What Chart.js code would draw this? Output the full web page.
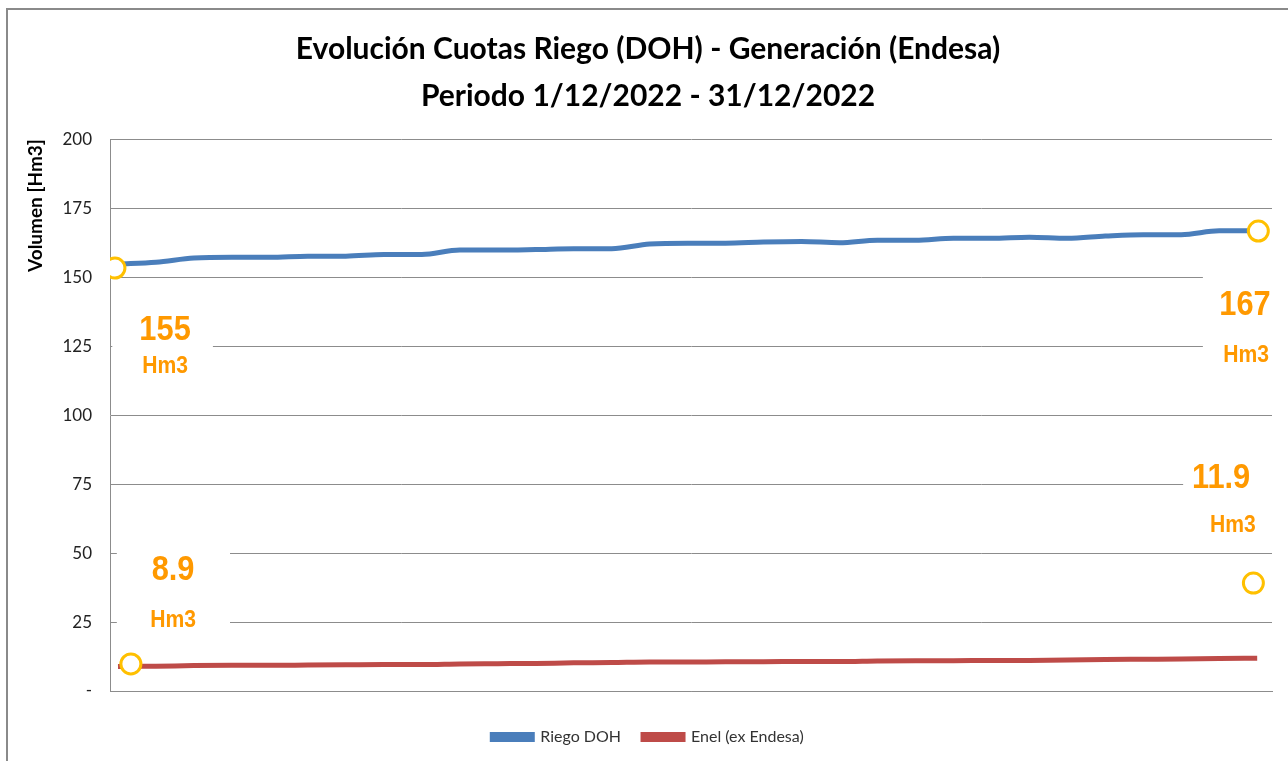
<!DOCTYPE html>
<html lang="es">
<head>
    <meta charset="UTF-8">
    <title>Evolución Cuotas Riego (DOH) - Generación (Endesa)</title>
    <script src="https://cdn.jsdelivr.net/npm/chart.js"></script>
    <style>
        html, body { margin: 0; padding: 0; background: #fff; overflow: hidden; }
        #wrap { position: relative; width: 1288px; height: 761px; }
        #frame {
            position: absolute; left: 6px; top: 8px; width: 1400px; height: 900px;
            border-left: 2px solid #8a8a8a; border-top: 2px solid #8a8a8a;
            pointer-events: none;
        }
    </style>
</head>
<body>
<div id="wrap">
    <canvas id="cuotas" width="1288" height="761"></canvas>
    <div id="frame"></div>
</div>

<script>
    // day of December 2022
    const days = [1, 2, 3, 4, 5, 6, 7, 8, 9, 10, 11, 12, 13, 14, 15, 16,
                  17, 18, 19, 20, 21, 22, 23, 24, 25, 26, 27, 28, 29, 30, 31];

    // Hm3
    const riegoDOH = [154.7, 155.4, 156.9, 157.2, 157.2, 157.6, 157.6, 158.2, 158.2, 159.8,
                      159.8, 160.0, 160.3, 160.3, 162.0, 162.3, 162.3, 162.7, 162.9, 162.5,
                      163.4, 163.4, 164.1, 164.1, 164.5, 164.1, 164.9, 165.4, 165.4, 166.8, 166.8];
    const enel = [8.9, 9.0, 9.2, 9.3, 9.3, 9.4, 9.5, 9.6, 9.6, 9.8,
                  9.9, 10.0, 10.2, 10.3, 10.5, 10.5, 10.6, 10.6, 10.7, 10.7,
                  10.9, 11.0, 11.0, 11.1, 11.1, 11.2, 11.4, 11.5, 11.6, 11.8, 11.9];

    const yTickValues = [0, 25, 50, 75, 100, 125, 150, 175, 200];
    const yTickLabels = ['-', '25', '50', '75', '100', '125', '150', '175', '200'];

    // yellow circles drawn on the original
    const markerX = [0.92, 31.03, 1.34, 30.9];
    const markerY = [153.3, 166.7, 9.8, 39.1];

    // orange value notes
    const noteText = ['155', '167', '11.9', '8.9'];
    const noteUnit = ['Hm3', 'Hm3', 'Hm3', 'Hm3'];

    const ORANGE = '#FF9900';

    // where the notes sit, in axis units
    const notePlaces = [
        { x: 2.24, y: 130.8, ux: 2.24, uy: 117.8, box: [0.85, 3.5, 145, 105] },
        { x: 30.68, y: 139.9, ux: 30.71, uy: 121.7, box: [29.57, 32, 152, 112] },
        { x: 30.05, y: 77.2, ux: 30.36, uy: 60.1, box: [29.05, 32, 90, 55] },
        { x: 2.45, y: 43.8, ux: 2.45, uy: 25.7, box: [0.97, 3.95, 60, 18] }
    ];

    const notesPlugin = {
        id: 'notes',
        beforeDatasetsDraw(chart) {
            const ctx = chart.ctx;
            const sx = chart.scales.x, sy = chart.scales.y;
            ctx.save();
            notePlaces.forEach((p, i) => {
                const x0 = sx.getPixelForValue(p.box[0]), x1 = sx.getPixelForValue(p.box[1]);
                const y0 = sy.getPixelForValue(p.box[2]), y1 = sy.getPixelForValue(p.box[3]);
                ctx.fillStyle = '#fff';
                ctx.fillRect(Math.max(x0, chart.chartArea.left + 1), y0, x1 - x0, y1 - y0);

                ctx.fillStyle = ORANGE;
                ctx.textAlign = 'center';
                ctx.textBaseline = 'middle';
                const draw = (txt, font, px, py) => {
                    ctx.save();
                    ctx.translate(sx.getPixelForValue(px), sy.getPixelForValue(py));
                    ctx.scale(0.88, 1);
                    ctx.font = font;
                    ctx.fillText(txt, 0, 0);
                    ctx.restore();
                };
                draw(noteText[i], 'bold 35px "Liberation Sans", Arial, sans-serif', p.x, p.y);
                draw(noteUnit[i], 'bold 24px "Liberation Sans", Arial, sans-serif', p.ux, p.uy);
            });
            ctx.restore();
        }
    };

    const ctx = document.getElementById('cuotas').getContext('2d');
    const chart = new Chart(ctx, {
        type: 'line',
        data: {
            datasets: [{
                label: 'Riego DOH',
                data: days.map((d, i) => ({ x: d, y: riegoDOH[i] })),
                borderColor: '#4A7EBB',
                backgroundColor: '#4A7EBB',
                borderWidth: 5,
                pointRadius: 0,
                cubicInterpolationMode: 'monotone'
            }, {
                label: 'Enel (ex Endesa)',
                data: days.map((d, i) => ({ x: d, y: enel[i] })),
                borderColor: '#BE4B48',
                backgroundColor: '#BE4B48',
                borderWidth: 5,
                pointRadius: 0,
                cubicInterpolationMode: 'monotone'
            }, {
                label: 'marcas',
                data: markerX.map((x, i) => ({ x: x, y: markerY[i] })),
                showLine: false,
                pointRadius: 10,
                pointBorderWidth: 3,
                pointBorderColor: '#FFC000',
                pointBackgroundColor: '#fff',
                order: -1
            }]
        },
        options: {
            responsive: false,
            animation: false,
            layout: { padding: { left: 24, right: 16, top: 0, bottom: 6 } },
            plugins: {
                tooltip: { enabled: false },
                title: {
                    display: true,
                    text: ['Evolución Cuotas Riego (DOH) - Generación (Endesa)', 'Periodo 1/12/2022 - 31/12/2022'],
                    color: '#000',
                    font: { family: 'Lato, "Open Sans", sans-serif', size: 30, weight: 'bold', lineHeight: 1.57 },
                    padding: { top: 26, bottom: 19 }
                },
                legend: {
                    position: 'bottom',
                    labels: {
                        filter: item => item.datasetIndex < 2,
                        boxWidth: 40,
                        boxHeight: 5,
                        color: '#333',
                        padding: 22,
                        font: { family: 'Lato, "Open Sans", sans-serif', size: 16 }
                    }
                }
            },
            scales: {
                x: {
                    type: 'linear',
                    min: 0.79,
                    max: 31.39,
                    afterFit: scale => { scale.height = 16; },
                    ticks: { display: false },
                    grid: { display: false },
                    border: { display: true, color: '#8c8c8c', width: 1 }
                },
                y: {
                    min: 0,
                    max: 200,
                    afterBuildTicks: scale => { scale.ticks = yTickValues.map(v => ({ value: v })); },
                    afterFit: scale => { scale.width = 86; },
                    ticks: {
                        callback: v => yTickLabels[yTickValues.indexOf(v)],
                        color: '#222',
                        padding: 18,
                        font: { family: 'Lato, "Open Sans", sans-serif', size: 17 }
                    },
                    grid: { color: '#8c8c8c', lineWidth: 1, drawTicks: false },
                    border: { display: true, color: '#8c8c8c', width: 1 },
                    title: {
                        display: true,
                        text: 'Volumen [Hm3]',
                        align: 'end',
                        color: '#000',
                        font: { family: 'Lato, "Open Sans", sans-serif', size: 19, weight: 'bold' },
                        padding: { top: 0, bottom: 0 }
                    }
                }
            }
        },
        plugins: [notesPlugin]
    });
</script>
</body>
</html>
